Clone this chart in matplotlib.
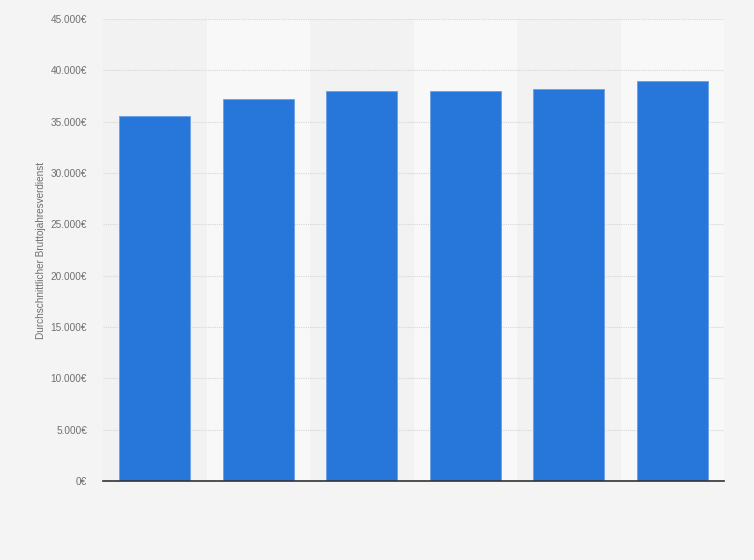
import matplotlib.pyplot as plt
from matplotlib.ticker import FuncFormatter

plt.rcParams['font.family'] = ['Liberation Sans', 'DejaVu Sans']

# six bars, the reference shows no category labels
categories = ['', '', '', '', '', '']
verdienst = [35600, 37250, 38000, 38000, 38200, 39000]
y_ticks = [0, 5000, 10000, 15000, 20000, 25000, 30000, 35000, 40000, 45000]

bg = '#f4f4f4'
fig = plt.figure(figsize=(7.54, 5.6), dpi=100, facecolor=bg)
ax = fig.add_axes([103 / 754, 1 - 481 / 560, 621 / 754, 462 / 560])
ax.set_facecolor('#f2f2f2')

x = list(range(len(verdienst)))
# alternating column bands
for i in x:
    if i % 2 == 1:
        ax.axvspan(i - 0.5, i + 0.5, color='#f8f8f8', zorder=0, lw=0)

ax.bar(x, verdienst, width=0.69, color='#2776d9', edgecolor='#6a9fe4',
       linewidth=0.6, zorder=3)

ax.set_xlim(-0.5, len(verdienst) - 0.5)
ax.set_ylim(0, 45000)
ax.set_yticks(y_ticks)
ax.yaxis.set_major_formatter(FuncFormatter(
    lambda v, p: '{:,.0f}€'.format(v).replace(',', '.')))
ax.set_xticks(x)
ax.set_xticklabels(categories)
ax.tick_params(axis='y', length=0, pad=11.5, labelsize=7.2, labelcolor='#6f6f6f')
ax.tick_params(axis='x', length=0)
ax.grid(axis='y', color='#d6d6d6', linestyle=(0, (1, 1)), linewidth=0.8, zorder=1)

for s in ['top', 'right', 'left']:
    ax.spines[s].set_visible(False)
ax.spines['bottom'].set_color('#333333')
ax.spines['bottom'].set_linewidth(1.2)
ax.spines['bottom'].set_zorder(4)

ax.set_ylabel('Durchschnittlicher Bruttojahresverdienst', fontsize=7.2,
              color='#6f6f6f')
ax.yaxis.set_label_coords((46 - 103) / 621, (481 - 250) / 462)

plt.savefig('out.png', dpi=100, facecolor=bg)
